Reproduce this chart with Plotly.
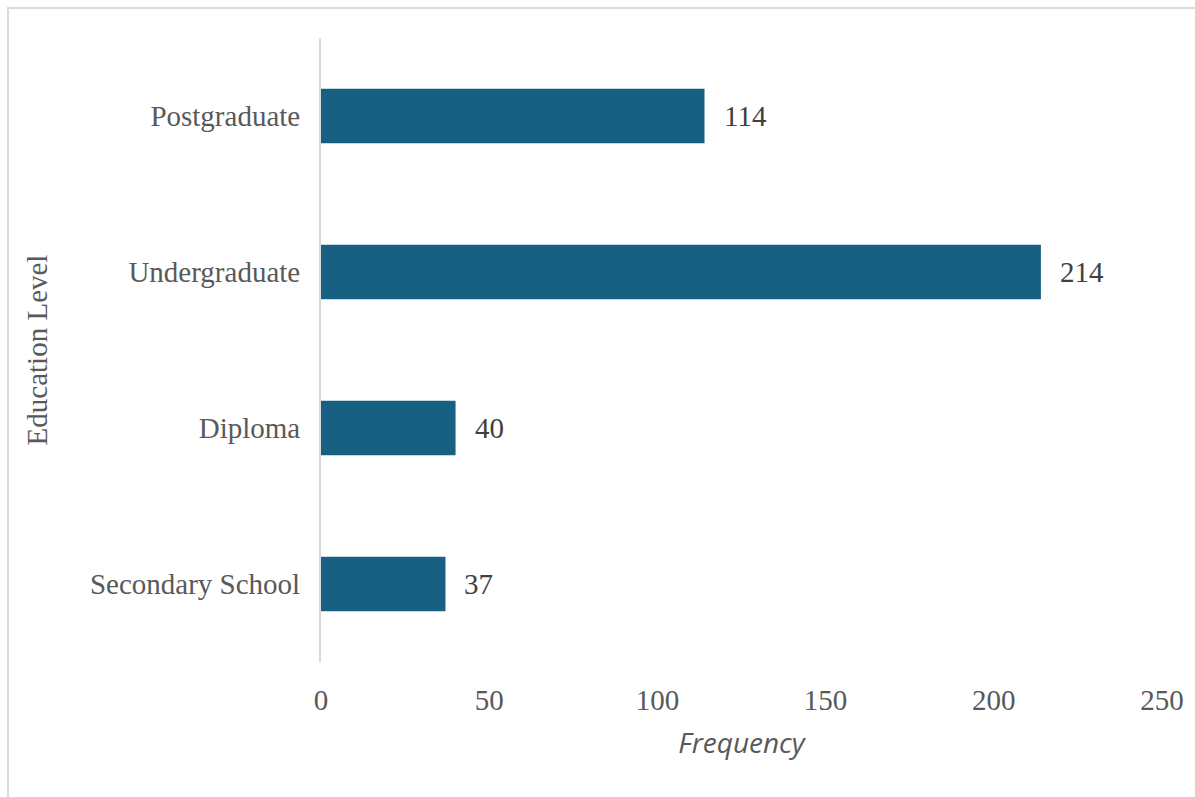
import plotly.graph_objects as go

# Education level counts
levels = ["Secondary School", "Diploma", "Undergraduate", "Postgraduate"]
counts = [37, 40, 214, 114]
x_ticks = [0, 50, 100, 150, 200, 250]

W, H = 1195, 797
L, R, T, B = 321, 33, 38, 135
pw, ph = W - L - R, H - T - B

fig = go.Figure(
    go.Bar(
        x=counts,
        y=levels,
        orientation="h",
        marker=dict(color="#186082", line=dict(width=0)),
        hoverinfo="x+y",
    )
)

# value labels to the right of each bar
for lv, c in zip(levels, counts):
    fig.add_annotation(
        x=c, y=lv, text=str(c), showarrow=False,
        xanchor="left", xshift=17,
        font=dict(family="Liberation Serif", size=29, color="#404040"),
    )

# light frame around the chart area
fig.add_shape(
    type="rect", xref="paper", yref="paper",
    x0=(8 - L) / pw, x1=(W + 20 - L) / pw,
    y0=-(H + 20 - T - ph) / ph, y1=(H - B - 8) / ph,
    line=dict(color="#dcdcdc", width=2), fillcolor="rgba(0,0,0,0)", layer="below",
)

fig.update_layout(
    width=W, height=H,
    margin=dict(l=L, r=R, t=T, b=B),
    paper_bgcolor="white", plot_bgcolor="white",
    bargap=0.65,
    showlegend=False,
    font=dict(family="Liberation Serif", size=29, color="#595959"),
    xaxis=dict(
        range=[0, 250], tickvals=x_ticks, showgrid=False, zeroline=False,
        showline=False, ticks="", ticklabelstandoff=18,
        tickfont=dict(family="Liberation Serif", size=29, color="#595959"),
        title=dict(
            text="Frequency", standoff=18,
            font=dict(family="Open Sans", size=28, color="#595959", style="italic"),
        ),
        fixedrange=True,
    ),
    yaxis=dict(
        categoryorder="array", categoryarray=levels,
        showgrid=False, zeroline=False, showline=True, linecolor="#d9d9d9", linewidth=2,
        ticks="", ticklabelstandoff=13,
        tickfont=dict(family="Liberation Serif", size=29, color="#595959"),
        title=dict(text="Education Level", standoff=34,
                   font=dict(family="Liberation Serif", size=29, color="#595959")),
        fixedrange=True,
    ),
)

fig.write_html("out.html")
